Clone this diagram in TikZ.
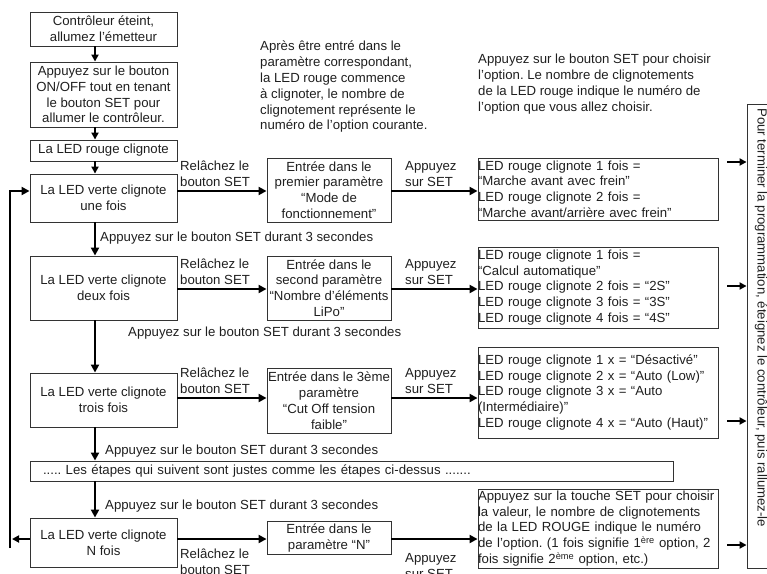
\documentclass[tikz,border=0pt]{standalone}
\usepackage{fontspec}
\setmainfont{Liberation Sans}
\usetikzlibrary{arrows.meta,calc}
\frenchspacing
\begin{document}
\begin{tikzpicture}[x=1pt,y=-1pt,
  every node/.style={font=\fontsize{13.2}{15.8}\selectfont\frenchspacing, text=black!88, inner sep=1pt},
  box/.style={draw=black!80, line width=0.9pt, align=center},
  lbox/.style={box, minimum width=147pt},
  mbox/.style={box, minimum width=124pt},
  rbox/.style={draw=black!80, line width=0.9pt, align=left, text width=240pt, inner xsep=0pt},
  lbl/.style={align=left, anchor=west},
  arr/.style={line width=2.4pt, draw=black, -{Triangle[length=8pt,width=8pt]}},
  barr/.style={line width=2.4pt, draw=black, -{Triangle[length=7pt,width=7pt]}}]
\useasboundingbox (0,0) rectangle (767,573);

% left column
\node[lbox, minimum height=34pt] (b1) at (103.5,29) {Contrôleur éteint,\\allumez l’émetteur};
\node[lbox, minimum height=65pt] (b2) at (103.5,94.5) {Appuyez sur le bouton\\ON/OFF tout en tenant\\le bouton SET pour\\allumer le contrôleur.};
\node[lbox, minimum height=21pt] (b3) at (103.5,150.5) {La LED rouge clignote};
\node[lbox, minimum height=48pt] (b4) at (103.5,198) {La LED verte clignote\\une fois};
\node[lbox, minimum height=64pt] (b5) at (103.5,288) {La LED verte clignote\\deux fois};
\node[lbox, minimum height=54pt] (b6) at (103.5,400) {La LED verte clignote\\trois fois};
\node[draw=black!80, line width=0.9pt, minimum height=20pt, text width=617pt, inner xsep=13pt, align=left] (wide) at (351.5,471) {..... Les étapes qui suivent sont justes comme les étapes ci-dessus .......};
\node[lbox, minimum height=49pt] (b7) at (103.5,542.5) {La LED verte clignote\\N fois};

% middle column
\node[mbox, minimum height=64pt] (m1) at (329,190) {Entrée dans le\\premier paramètre\\“Mode de\\fonctionnement”};
\node[mbox, minimum height=64pt] (m2) at (329,288) {Entrée dans le\\second paramètre\\“Nombre d’éléments\\LiPo”};
\node[mbox, minimum height=65pt] (m3) at (329,400.5) {Entrée dans le 3ème\\paramètre\\“Cut Off tension\\faible”};
\node[mbox, minimum height=33pt] (m4) at (329,538) {Entrée dans le\\paramètre “N”};

% right column
\node[rbox, minimum height=62pt] (r1) at (598,189) {LED rouge clignote 1 fois =\\“Marche avant avec frein”\\LED rouge clignote 2 fois =\\“Marche avant/arrière avec frein”};
\node[rbox, minimum height=81pt] (r2) at (598,287.5) {LED rouge clignote 1 fois =\\“Calcul automatique”\\LED rouge clignote 2 fois = “2S”\\LED rouge clignote 3 fois = “3S”\\LED rouge clignote 4 fois = “4S”};
\node[rbox, minimum height=91pt] (r3) at (598,392.5) {LED rouge clignote 1 x = “Désactivé”\\LED rouge clignote 2 x = “Auto (Low)”\\LED rouge clignote 3 x = “Auto\\(Intermédiaire)”\\LED rouge clignote 4 x = “Auto (Haut)”};
\node[rbox, minimum height=79pt] (r4) at (598,528.5) {Appuyez sur la touche SET pour choisir\\la valeur, le nombre de clignotements\\de la LED ROUGE indique le numéro\\de l’option. (1 fois signifie 1\textsuperscript{ère} option, 2\\fois signifie 2\textsuperscript{ème} option, etc.)};

% tall box on the right
\node[draw=black!80, line width=0.9pt, minimum width=30pt, minimum height=464pt, inner sep=0pt] (tall) at (762,336) {};
\node[rotate=-90, anchor=west] (tallt) at (761,107) {Pour terminer la programmation, éteignez le contrôleur, puis rallumez-le};

% top explanatory texts
\node[lbl] (t1) at (259,87) {Après être entré dans le\\paramètre correspondant,\\la LED rouge commence\\à clignoter, le nombre de\\clignotement représente le\\numéro de l’option courante.};
\node[lbl] (t2) at (477,84) {Appuyez sur le bouton SET pour choisir\\l’option. Le nombre de clignotements\\de la LED rouge indique le numéro de\\l’option que vous allez choisir.};

% coordinates
\coordinate (cx) at (95,0);
\coordinate (y1) at (0,191);
\coordinate (y2) at (0,289);
\coordinate (y3) at (0,398);
\coordinate (y4) at (0,539);

% vertical arrows
\draw[barr] (b1.south -| cx) -- (b2.north -| cx);
\draw[barr] (b2.south -| cx) -- (b3.north -| cx);
\draw[barr] (b3.south -| cx) -- (b4.north -| cx);
\draw[arr] (b4.south -| cx) -- (b5.north -| cx);
\draw[arr] (b5.south -| cx) -- (b6.north -| cx);
\draw[arr] (b6.south -| cx) -- (wide.north -| cx);
\draw[arr] (wide.south -| cx) -- (b7.north -| cx);

\node[lbl] (v1) at (99,238) {Appuyez sur le bouton SET durant 3 secondes};
\node[lbl] (v2) at (127,333) {Appuyez sur le bouton SET durant 3 secondes};
\node[lbl] (v3) at (104,451) {Appuyez sur le bouton SET durant 3 secondes};
\node[lbl] (v4) at (104,506) {Appuyez sur le bouton SET durant 3 secondes};

% horizontal arrows
\draw[arr] (b4.east |- y1) -- (m1.west |- y1);
\draw[arr] (m1.east |- y1) -- (r1.west |- y1);
\draw[arr] (b5.east |- y2) -- (m2.west |- y2);
\draw[arr] (m2.east |- y2) -- (r2.west |- y2);
\draw[arr] (b6.east |- y3) -- (m3.west |- y3);
\draw[arr] (m3.east |- y3) -- (r3.west |- y3);
\draw[arr] (b7.east |- y4) -- (m4.west |- y4);
\draw[arr] (m4.east |- y4) -- (r4.west |- y4);

\node[lbl] (l1) at (179,174) {Relâchez le\\bouton SET};
\node[lbl] (a1) at (404,174) {Appuyez\\sur SET};
\node[lbl] (l2) at (179,272) {Relâchez le\\bouton SET};
\node[lbl] (a2) at (404,272) {Appuyez\\sur SET};
\node[lbl] (l3) at (179,381) {Relâchez le\\bouton SET};
\node[lbl] (a3) at (404,381) {Appuyez\\sur SET};
\node[lbl] (l4) at (179,562) {Relâchez le\\bouton SET};
\node[lbl] (a4) at (404,566) {Appuyez\\sur SET};

% short arrows into the tall box
\coordinate (o1) at (727,162);
\coordinate (o2) at (727,286);
\coordinate (o3) at (727,421);
\coordinate (o4) at (727,545);
\draw[barr] (o1) -- (o1 -| tall.west);
\draw[barr] (o2) -- (o2 -| tall.west);
\draw[barr] (o3) -- (o3 -| tall.west);
\draw[barr] (o4) -- (o4 -| tall.west);

% feedback loop
\coordinate (fbL) at (12,539);
\coordinate (fbB) at (10,548);
\coordinate (fbT) at (10,191);
\draw[barr] (b7.west |- y4) -- (fbL);
\draw[arr, line join=miter] (fbB) -- (fbT) -- (b4.west |- fbT);
\end{tikzpicture}
\end{document}
